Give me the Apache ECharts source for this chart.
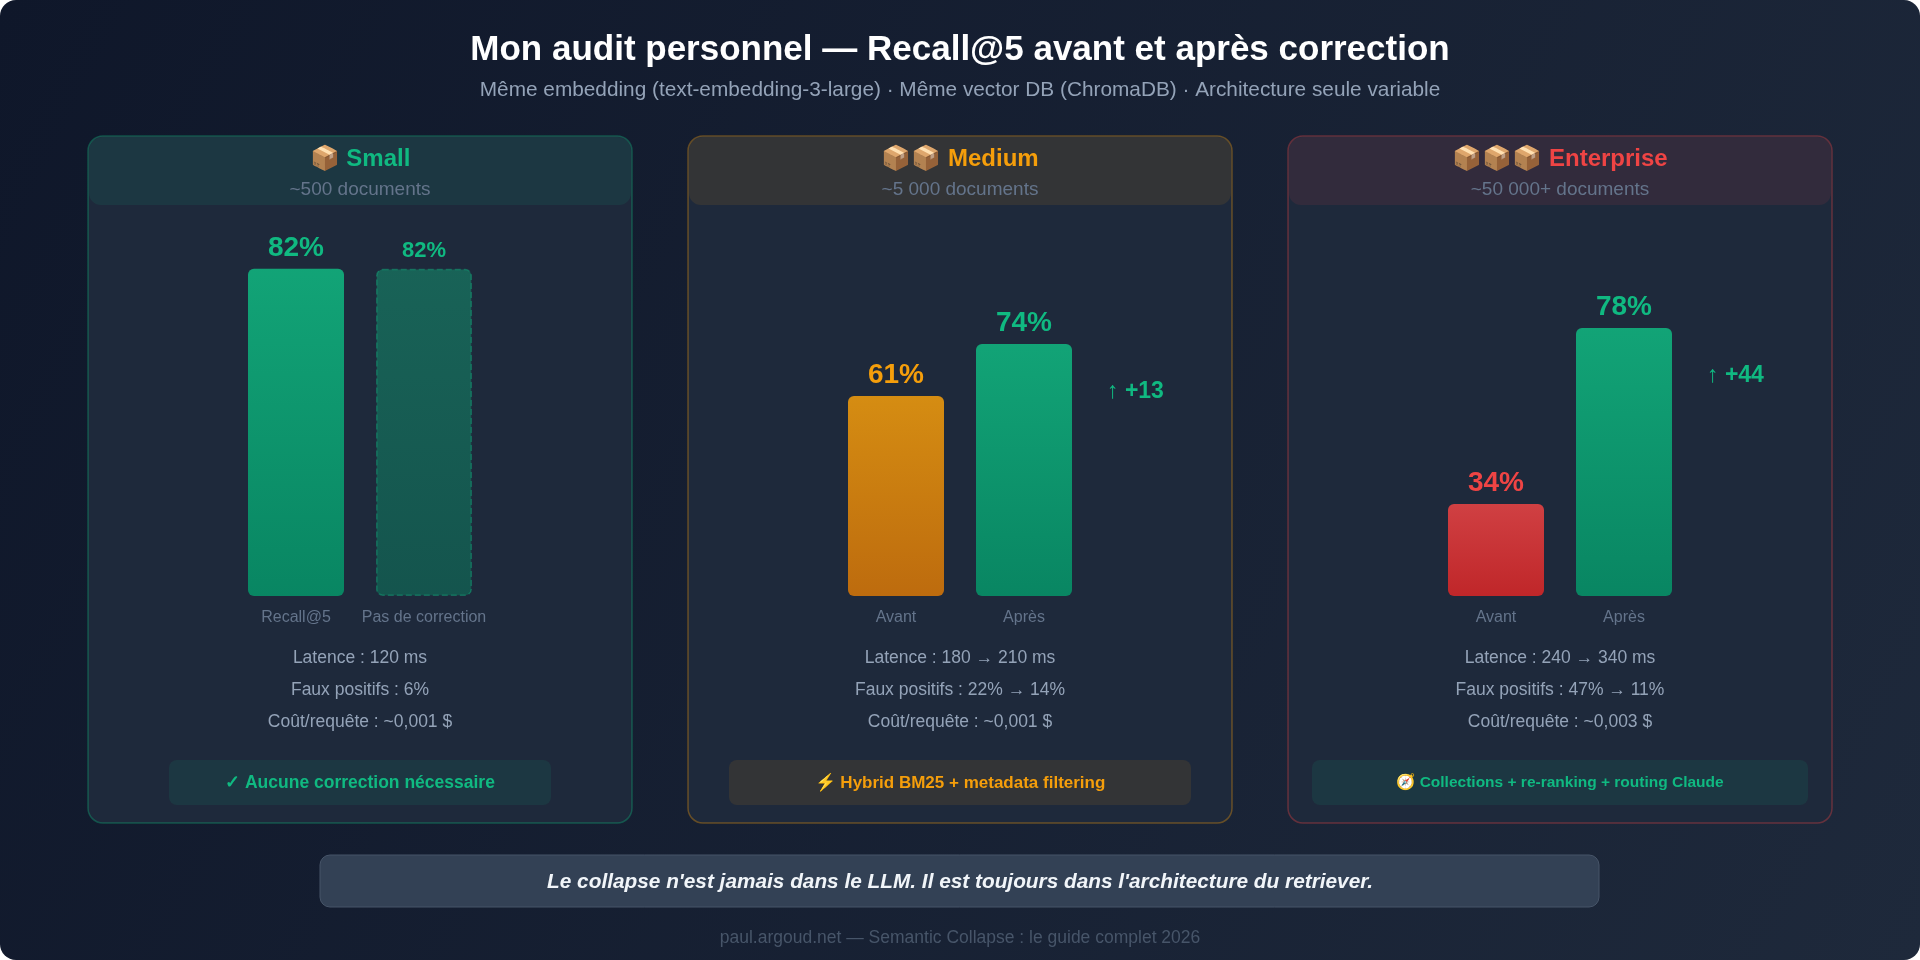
<!DOCTYPE html>
<html>
<head>
<meta charset="utf-8">
<script src="https://cdn.jsdelivr.net/npm/echarts@6/dist/echarts.min.js"></script>
<style>
html, body { margin: 0; padding: 0; background: #ffffff; }
#main { width: 1920px; height: 960px; }
</style>
</head>
<body>
<div id="main"></div>
<script>
// chart data
var panelIcons = ['📦', '📦📦', '📦📦📦'];
var panelNames = ['Small', 'Medium', 'Enterprise'];
var panelDocs = ['~500 documents', '~5 000 documents', '~50 000+ documents'];
var smallCats = ['Recall@5', 'Pas de correction'];
var smallValues = [82, 82];
var mediumCats = ['Avant', 'Après'];
var mediumValues = [61, 74];
var enterpriseCats = ['Avant', 'Après'];
var enterpriseValues = [34, 78];
var latence = ['120 ms', '180 → 210 ms', '240 → 340 ms'];
var fauxPositifs = ['6%', '22% → 14%', '47% → 11%'];
var couts = ['~0,001 $', '~0,001 $', '~0,003 $'];
var corrections = ['✓ Aucune correction nécessaire', '⚡ Hybrid BM25 + metadata filtering', '🧭 Collections + re-ranking + routing Claude'];

var FONT = "'Liberation Sans', Arial, Helvetica, sans-serif";
var GREEN = '#10b981', AMBER = '#f59e0b', RED = '#ef4444';

var myChart = echarts.init(document.getElementById('main'));

function grad(c1, c2) {
    return new echarts.graphic.LinearGradient(0, 0, 0, 1, [
        { offset: 0, color: c1 },
        { offset: 1, color: c2 }
    ]);
}
var greenFill = grad('rgba(16,185,129,0.85)', 'rgba(5,150,105,0.85)');
var amberFill = grad('rgba(245,158,11,0.85)', 'rgba(217,119,6,0.85)');
var redFill = grad('rgba(239,68,68,0.85)', 'rgba(220,38,38,0.85)');
var ghostFill = grad('rgba(16,185,129,0.4)', 'rgba(5,150,105,0.4)');

var panelX = [88, 688, 1288];
var panelW = 544;
var centers = [360, 960, 1560];
var accents = [GREEN, AMBER, RED];
var accentRgb = ['16,185,129', '245,158,11', '239,68,68'];
var badgeBox = [[169, 382], [729, 462], [1312, 496]];
var badgeRgb = ['16,185,129', '245,158,11', '16,185,129'];
var badgeColor = [GREEN, AMBER, GREEN];
var badgeSize = [17.5, 17, 15.5];

var graphics = [];
// page background
graphics.push({
    type: 'rect', z: 0,
    shape: { x: 0, y: 0, width: 1920, height: 960, r: 16 },
    style: { fill: new echarts.graphic.LinearGradient(0, 0, 1, 1, [
        { offset: 0, color: '#0f172a' }, { offset: 1, color: '#1e293b' }]) }
});
graphics.push({
    type: 'text', z: 5, x: 960, y: 50,
    style: { text: 'Mon audit personnel — Recall@5 avant et après correction', fill: '#ffffff',
        font: 'bold 35px ' + FONT, textAlign: 'center', textVerticalAlign: 'middle' }
});
graphics.push({
    type: 'text', z: 5, x: 960, y: 90,
    style: { text: 'Même embedding (text-embedding-3-large) · Même vector DB (ChromaDB) · Architecture seule variable',
        fill: '#94a3b8', font: '20.8px ' + FONT, textAlign: 'center', textVerticalAlign: 'middle' }
});

for (var i = 0; i < 3; i++) {
    graphics.push({
        type: 'rect', z: 1,
        shape: { x: panelX[i], y: 136, width: panelW, height: 687, r: 15 },
        style: { fill: '#1e293b', stroke: 'rgba(' + accentRgb[i] + ',0.35)', lineWidth: 1.5 }
    });
    graphics.push({
        type: 'rect', z: 1,
        shape: { x: panelX[i] + 1, y: 137, width: panelW - 2, height: 68, r: [14, 14, 12, 12] },
        style: { fill: 'rgba(' + accentRgb[i] + ',0.1)' }
    });
    graphics.push({
        type: 'text', z: 5, x: centers[i], y: 159,
        style: { text: panelIcons[i] + ' ' + panelNames[i], fill: accents[i],
            font: 'bold 24px ' + FONT, textAlign: 'center', textVerticalAlign: 'middle' }
    });
    graphics.push({
        type: 'text', z: 5, x: centers[i], y: 190,
        style: { text: panelDocs[i], fill: '#64748b',
            font: '19px ' + FONT, textAlign: 'center', textVerticalAlign: 'middle' }
    });
    var stats = ['Latence : ' + latence[i], 'Faux positifs : ' + fauxPositifs[i], 'Coût/requête : ' + couts[i]];
    for (var k = 0; k < 3; k++) {
        graphics.push({
            type: 'text', z: 5, x: centers[i], y: 658 + k * 32,
            style: { text: stats[k], fill: '#94a3b8',
                font: '17.5px ' + FONT, textAlign: 'center', textVerticalAlign: 'middle' }
        });
    }
    graphics.push({
        type: 'rect', z: 2,
        shape: { x: badgeBox[i][0], y: 760, width: badgeBox[i][1], height: 45, r: 8 },
        style: { fill: 'rgba(' + badgeRgb[i] + ',0.1)' }
    });
    graphics.push({
        type: 'text', z: 5, x: centers[i], y: 783,
        style: { text: corrections[i], fill: badgeColor[i],
            font: 'bold ' + badgeSize[i] + 'px ' + FONT, textAlign: 'center', textVerticalAlign: 'middle' }
    });
}

// bottom callout
graphics.push({
    type: 'rect', z: 1,
    shape: { x: 320, y: 855, width: 1279, height: 52, r: 10 },
    style: { fill: '#334155', stroke: '#475569', lineWidth: 1 }
});
graphics.push({
    type: 'text', z: 5, x: 960, y: 882,
    style: { text: "Le collapse n'est jamais dans le LLM. Il est toujours dans l'architecture du retriever.",
        fill: '#f1f5f9', font: 'italic bold 20.8px ' + FONT, textAlign: 'center', textVerticalAlign: 'middle' }
});
graphics.push({
    type: 'text', z: 5, x: 960, y: 938,
    style: { text: 'paul.argoud.net — Semantic Collapse : le guide complet 2026',
        fill: '#475569', font: '17.5px ' + FONT, textAlign: 'center', textVerticalAlign: 'middle' }
});

function grid(i, top) {
    return { left: centers[i] - 128, width: 256, top: top, bottom: 364, containLabel: false };
}
function xAxis(i, cats) {
    return {
        type: 'category', gridIndex: i, data: cats, z: 10,
        axisLine: { show: false }, axisTick: { show: false }, splitLine: { show: false },
        axisLabel: { color: '#64748b', fontSize: 16, fontFamily: FONT, margin: 14, interval: 0, hideOverlap: false }
    };
}
function yAxis(i, min) {
    return { type: 'value', gridIndex: i, min: min, max: 100, show: false, splitLine: { show: false } };
}
function valueLabel(color, size) {
    return {
        show: true, position: 'top', distance: 7, color: color,
        fontSize: size, fontWeight: 'bold', fontFamily: FONT,
        formatter: function (p) { return p.value + '%'; }
    };
}
function deltaSeries(i, values) {
    var d = values[1] - values[0];
    return {
        type: 'bar', xAxisIndex: i, yAxisIndex: i, barWidth: 96, barGap: '-100%', z: 3,
        silent: true,
        itemStyle: { color: 'rgba(0,0,0,0)' },
        label: {
            show: true, position: [131, 48], verticalAlign: 'middle', align: 'left',
            color: GREEN, fontSize: 23, fontWeight: 'bold', fontFamily: FONT,
            formatter: function () { return '↑ +' + d; }
        },
        data: ['-', values[1]]
    };
}
var r = 6;

option = {
    animation: false,
    graphic: graphics,
    grid: [grid(0, 197), grid(1, 240), grid(2, 240)],
    xAxis: [xAxis(0, smallCats), xAxis(1, mediumCats), xAxis(2, enterpriseCats)],
    yAxis: [yAxis(0, 0), yAxis(1, 11), yAxis(2, 11)],
    series: [
        {
            type: 'bar', xAxisIndex: 0, yAxisIndex: 0, barWidth: 96, barGap: '-100%',
            data: [
                { value: smallValues[0], itemStyle: { color: greenFill, borderRadius: r },
                    label: valueLabel(GREEN, 28) },
                { value: smallValues[1], itemStyle: { color: ghostFill, borderRadius: r,
                    borderType: 'dashed', borderColor: 'rgba(16,185,129,0.4)', borderWidth: 1.5 },
                    label: valueLabel(GREEN, 22) }
            ]
        },
        {
            type: 'bar', xAxisIndex: 1, yAxisIndex: 1, barWidth: 96, barGap: '-100%',
            data: [
                { value: mediumValues[0], itemStyle: { color: amberFill, borderRadius: r },
                    label: valueLabel(AMBER, 28) },
                { value: mediumValues[1], itemStyle: { color: greenFill, borderRadius: r },
                    label: valueLabel(GREEN, 28) }
            ]
        },
        deltaSeries(1, mediumValues),
        {
            type: 'bar', xAxisIndex: 2, yAxisIndex: 2, barWidth: 96, barGap: '-100%',
            data: [
                { value: enterpriseValues[0], itemStyle: { color: redFill, borderRadius: r },
                    label: valueLabel(RED, 28) },
                { value: enterpriseValues[1], itemStyle: { color: greenFill, borderRadius: r },
                    label: valueLabel(GREEN, 28) }
            ]
        },
        deltaSeries(2, enterpriseValues)
    ]
};
myChart.setOption(option);
</script>
</body>
</html>
